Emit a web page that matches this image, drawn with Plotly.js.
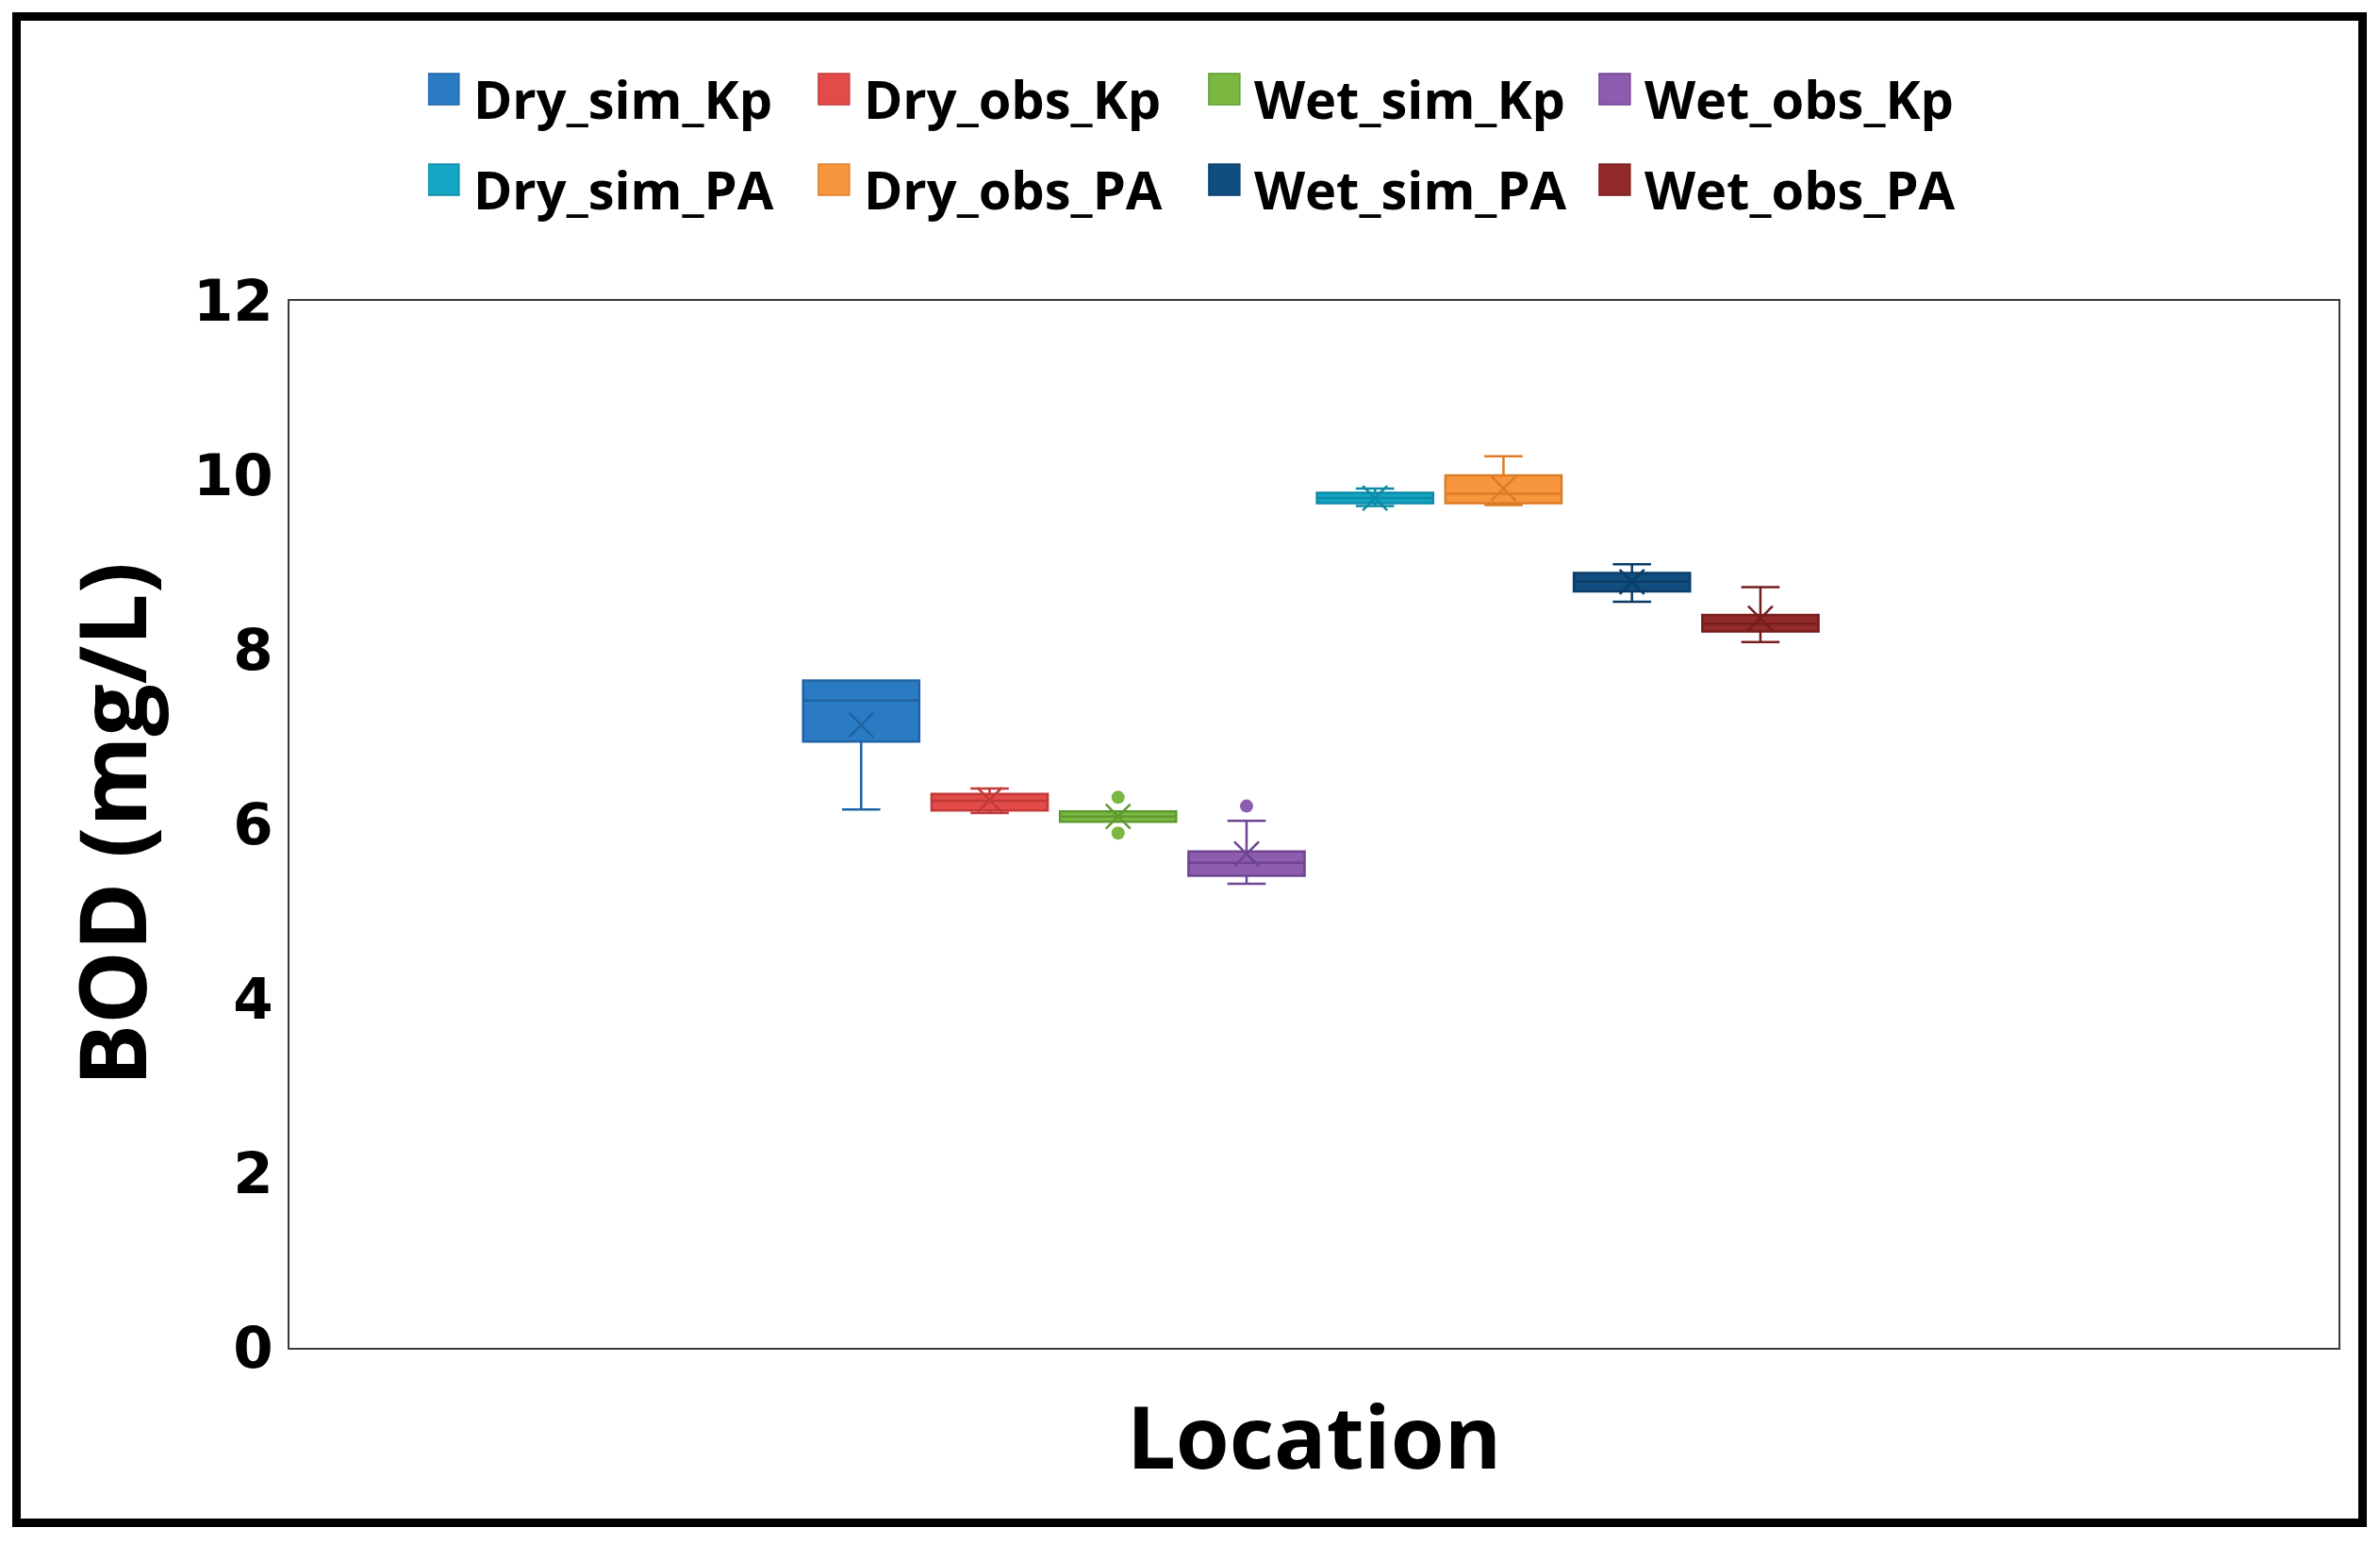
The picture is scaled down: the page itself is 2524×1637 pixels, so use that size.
<!DOCTYPE html>
<html>
<head>
<meta charset="utf-8">
<script src="https://cdn.plot.ly/plotly-3.0.1.min.js"></script>
<style>
  html, body { margin: 0; padding: 0; background: #ffffff; }
  #wrap { position: relative; width: 2524px; height: 1637px; }
  #chart { position: absolute; left: 0; top: 0; width: 2524px; height: 1637px; }
  #frame { position: absolute; left: 13px; top: 13px; width: 2479px; height: 1588px;
           border: 9px solid #000; pointer-events: none; }
</style>
</head>
<body>
<div id="wrap">
  <div id="chart"></div>
  <div id="frame"></div>
</div>
<script>
// ---- data ----
const seriesNames = ['Dry_sim_Kp', 'Dry_obs_Kp', 'Wet_sim_Kp', 'Wet_obs_Kp',
                     'Dry_sim_PA', 'Dry_obs_PA', 'Wet_sim_PA', 'Wet_obs_PA'];
const lowerWhisker = [6.17, 6.13, 6.03, 5.32, 9.65, 9.66, 8.55, 8.09];
const q1Values     = [6.95, 6.16, 6.03, 5.41, 9.68, 9.68, 8.67, 8.21];
const medianValues = [7.42, 6.27, 6.09, 5.56, 9.74, 9.79, 8.78, 8.30];
const q3Values     = [7.65, 6.35, 6.15, 5.69, 9.80, 10.00, 8.88, 8.40];
const upperWhisker = [7.65, 6.41, 6.15, 6.04, 9.85, 10.22, 8.98, 8.72];
const meanValues   = [7.14, 6.28, 6.09, 5.66, 9.74, 9.85, 8.78, 8.36];
const outlierSeries = ['Wet_sim_Kp', 'Wet_sim_Kp', 'Wet_obs_Kp'];
const outlierValues = [6.31, 5.90, 6.21];
const yTickValues = [0, 2, 4, 6, 8, 10, 12];

// ---- styles ----
const fillColors = ['#2B7BC4', '#E24B48', '#7BB842', '#8C5CAF', '#14A6C3', '#F7963D', '#104E80', '#932A2A'];
const lineColors = ['#2063A3', '#C23A38', '#5F9A2E', '#6F4491', '#0B8AA5', '#DB7C27', '#0A3C66', '#771D1E'];

const traces = [];
seriesNames.forEach(function (name, i) {
  traces.push({
    type: 'box',
    name: name,
    x: [name],
    q1: [q1Values[i]],
    median: [medianValues[i]],
    q3: [q3Values[i]],
    lowerfence: [lowerWhisker[i]],
    upperfence: [upperWhisker[i]],
    boxpoints: false,
    fillcolor: fillColors[i],
    line: { color: lineColors[i], width: 2.5 },
    whiskerwidth: 0.33,
    legend: i < 4 ? 'legend' : 'legend2',
    showlegend: true
  });
});

// mean markers (X)
traces.push({
  type: 'scatter', mode: 'markers', x: seriesNames, y: meanValues,
  showlegend: false, hoverinfo: 'y',
  marker: { symbol: 'x-thin', size: 26, line: { width: 2.5, color: lineColors } }
});

// outlier points
const outlierColors = outlierSeries.map(function (s) { return fillColors[seriesNames.indexOf(s)]; });
traces.push({
  type: 'scatter', mode: 'markers', x: outlierSeries, y: outlierValues,
  showlegend: false, hoverinfo: 'y',
  marker: { symbol: 'circle', size: 14, color: outlierColors }
});

const legendFont = { family: 'Open Sans, Noto Sans, sans-serif', size: 56, weight: 700, color: '#000' };
const legendBase = {
  orientation: 'h', x: 0.0676, xanchor: 'left', yanchor: 'middle',
  font: legendFont, itemwidth: 38, entrywidth: 361, entrywidthmode: 'pixels',
  bgcolor: 'rgba(0,0,0,0)', borderwidth: 0, traceorder: 'normal', itemclick: false
};

const layout = {
  width: 2524, height: 1637,
  margin: { l: 307, r: 44, t: 319, b: 208, pad: 0 },
  paper_bgcolor: '#ffffff', plot_bgcolor: '#ffffff',
  boxmode: 'overlay', boxgap: 0.096, boxgroupgap: 0,
  showlegend: true,
  legend: Object.assign({}, legendBase, { y: 1.1932 }),
  legend2: Object.assign({}, legendBase, { y: 1.1067 }),
  xaxis: {
    type: 'category', categoryorder: 'array', categoryarray: seriesNames,
    range: [-4.45, 11.5], showticklabels: false, ticks: '',
    showgrid: false, zeroline: false, showline: true, mirror: true,
    linecolor: '#3a3a3a', linewidth: 2,
    title: { text: 'Location', standoff: 63,
             font: { family: 'Open Sans, Noto Sans, sans-serif', size: 92, weight: 700, color: '#000' } }
  },
  yaxis: {
    range: [0, 12], tickvals: yTickValues, ticktext: yTickValues.map(String),
    ticks: '', showgrid: false, zeroline: false, showline: true, mirror: true,
    linecolor: '#3a3a3a', linewidth: 2, ticklabelstandoff: 3,
    tickfont: { family: 'DejaVu Sans, sans-serif', size: 61, weight: 700, color: '#000' },
    title: { text: 'BOD (mg/L)', standoff: 17,
             font: { family: 'Open Sans, Noto Sans, sans-serif', size: 98, weight: 700, color: '#000' } }
  }
};

function enlargeSwatches(gd) {
  gd.querySelectorAll('.legendpoints path').forEach(function (p) {
    p.setAttribute('transform', 'translate(16.5,-10) scale(2.75)');
    p.style.strokeWidth = '0.5px';
  });
}

Plotly.newPlot('chart', traces, layout, { displayModeBar: false, staticPlot: true }).then(function (gd) {
  enlargeSwatches(gd);
  gd.on('plotly_afterplot', function () { enlargeSwatches(gd); });
});
</script>
</body>
</html>
